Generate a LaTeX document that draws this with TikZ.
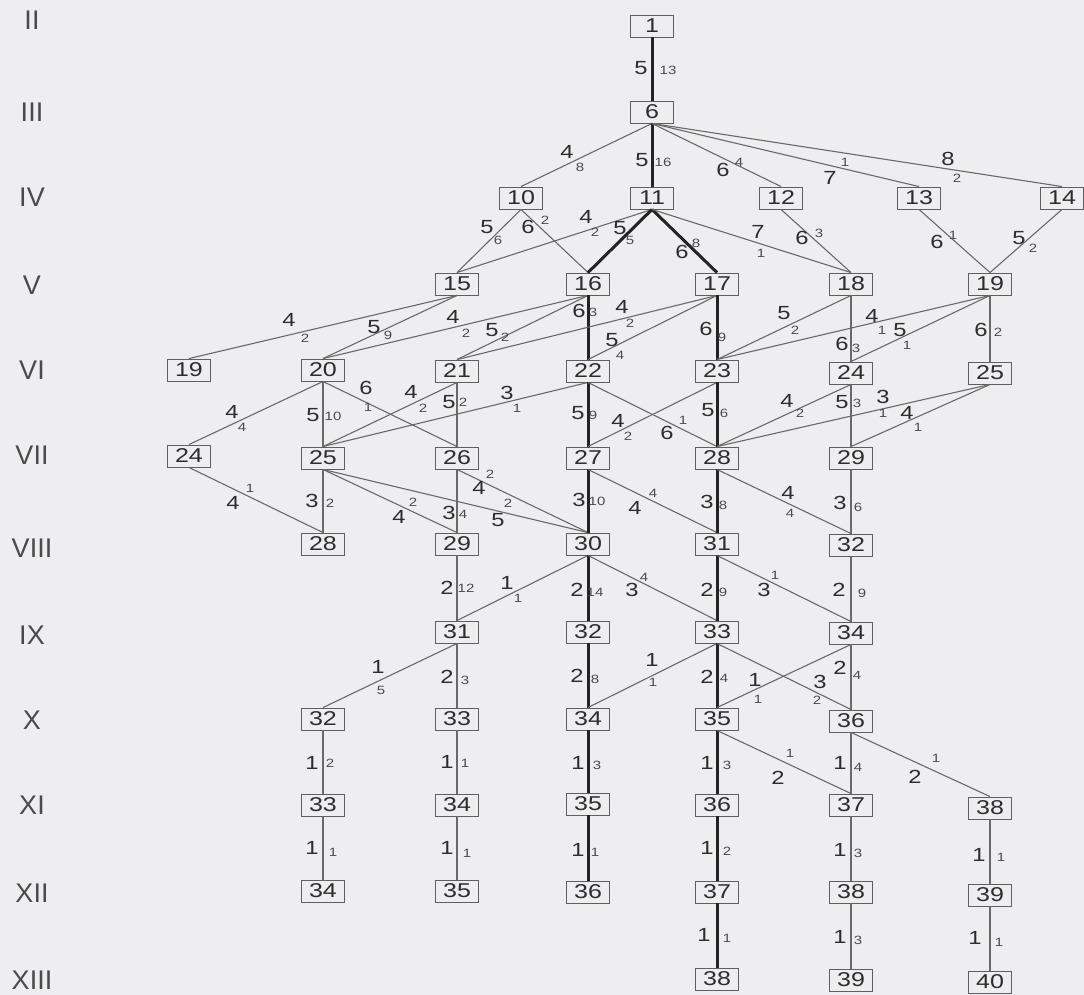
\documentclass[tikz,border=0pt]{standalone}
\usepackage{fontspec}
\setmainfont{Liberation Sans}
\newfontfamily\numfont[FakeStretch=1.25]{Liberation Sans}
\definecolor{bgc}{RGB}{238,238,240}
\definecolor{boxc}{RGB}{95,95,95}
\definecolor{txt}{RGB}{45,45,45}
\definecolor{smc}{RGB}{75,75,75}
\definecolor{lnc}{RGB}{105,105,105}
\definecolor{thkc}{RGB}{35,35,35}
\newcounter{labc}
\newcommand{\Lab}[6]{\stepcounter{labc}%
  \node[big] (L\arabic{labc}a) at (#1,#2) {#3};
  \node[sml] (L\arabic{labc}b) at (#4,#5) {#6};}
\newcommand{\EdgeN}[2]{\draw[ln] (#1.south) -- (#2.north);}
\newcommand{\EdgeT}[2]{\draw[thk] (#1.south) -- (#2.north);}
\begin{document}
\begin{tikzpicture}[x=1pt,y=-1pt,
  box/.style={draw=boxc, fill=bgc, line width=0.9pt, minimum width=43pt, minimum height=22pt, inner sep=0pt, font=\numfont\fontsize{20}{20}\selectfont, text=txt},
  ln/.style={draw=lnc, line width=1.1pt},
  thk/.style={draw=thkc, line width=3pt},
  big/.style={font=\numfont\fontsize{19}{19}\selectfont, text=txt, inner sep=0pt},
  sml/.style={font=\numfont\fontsize{12}{12}\selectfont, text=smc, inner sep=0pt},
  rom/.style={font=\fontsize{27}{27}\selectfont, text=txt!85!bgc, inner sep=0pt}]
\fill[bgc] (0,0) rectangle (1084,995);
\useasboundingbox (0,0) rectangle (1084,995);
% row labels
\node[rom] (rII) at (32,20) {II};
\node[rom] (rIII) at (32,112) {III};
\node[rom] (rIV) at (32,197) {IV};
\node[rom] (rV) at (32,285) {V};
\node[rom] (rVI) at (32,370) {VI};
\node[rom] (rVII) at (32,455) {VII};
\node[rom] (rVIII) at (32,548) {VIII};
\node[rom] (rIX) at (32,635) {IX};
\node[rom] (rX) at (32,720) {X};
\node[rom] (rXI) at (32,805) {XI};
\node[rom] (rXII) at (32,893) {XII};
\node[rom] (rXIII) at (32,980) {XIII};
% nodes
\node[box] (A1) at (652,26) {1};
\node[box] (B6) at (652,112) {6};
\node[box] (C10) at (521,198) {10};
\node[box] (C11) at (652,198) {11};
\node[box] (C12) at (781,198) {12};
\node[box] (C13) at (919,198) {13};
\node[box] (C14) at (1062,198) {14};
\node[box] (D15) at (457,284) {15};
\node[box] (D16) at (588,284) {16};
\node[box] (D17) at (717,284) {17};
\node[box] (D18) at (851,284) {18};
\node[box] (D19) at (990,284) {19};
\node[box] (E19) at (189,370) {19};
\node[box] (E20) at (323,370) {20};
\node[box] (E21) at (457,371) {21};
\node[box] (E22) at (588,371) {22};
\node[box] (E23) at (717,371) {23};
\node[box] (E24) at (851,373) {24};
\node[box] (E25) at (990,373) {25};
\node[box] (F24) at (189,456) {24};
\node[box] (F25) at (323,458) {25};
\node[box] (F26) at (457,458) {26};
\node[box] (F27) at (588,458) {27};
\node[box] (F28) at (717,458) {28};
\node[box] (F29) at (851,458) {29};
\node[box] (G28) at (323,544) {28};
\node[box] (G29) at (457,544) {29};
\node[box] (G30) at (588,544) {30};
\node[box] (G31) at (717,544) {31};
\node[box] (G32) at (851,545) {32};
\node[box] (H31) at (457,632) {31};
\node[box] (H32) at (588,632) {32};
\node[box] (H33) at (717,632) {33};
\node[box] (H34) at (851,633) {34};
\node[box] (I32) at (323,719) {32};
\node[box] (I33) at (457,719) {33};
\node[box] (I34) at (588,719) {34};
\node[box] (I35) at (717,719) {35};
\node[box] (I36) at (851,721) {36};
\node[box] (J33) at (323,805) {33};
\node[box] (J34) at (457,805) {34};
\node[box] (J35) at (588,804) {35};
\node[box] (J36) at (717,805) {36};
\node[box] (J37) at (851,805) {37};
\node[box] (J38) at (990,808) {38};
\node[box] (K34) at (323,891) {34};
\node[box] (K35) at (457,891) {35};
\node[box] (K36) at (588,892) {36};
\node[box] (K37) at (717,892) {37};
\node[box] (K38) at (851,892) {38};
\node[box] (K39) at (990,895) {39};
\node[box] (L38) at (717,979) {38};
\node[box] (L39) at (851,980) {39};
\node[box] (L40) at (990,982) {40};
% edges
\EdgeT{A1}{B6}
\EdgeN{B6}{C10} \EdgeT{B6}{C11} \EdgeN{B6}{C12} \EdgeN{B6}{C13} \EdgeN{B6}{C14}
\EdgeN{C10}{D15} \EdgeN{C10}{D16} \EdgeN{C11}{D15} \EdgeT{C11}{D16} \EdgeT{C11}{D17}
\EdgeN{C11}{D18} \EdgeN{C12}{D18} \EdgeN{C13}{D19} \EdgeN{C14}{D19}
\EdgeN{D15}{E19} \EdgeN{D15}{E20} \EdgeN{D16}{E20} \EdgeN{D16}{E21} \EdgeT{D16}{E22}
\EdgeN{D17}{E21} \EdgeN{D17}{E22} \EdgeT{D17}{E23} \EdgeN{D18}{E23} \EdgeN{D18}{E24}
\EdgeN{D19}{E23} \EdgeN{D19}{E24} \EdgeN{D19}{E25}
\EdgeN{E20}{F24} \EdgeN{E20}{F25} \EdgeN{E20}{F26} \EdgeN{E21}{F25} \EdgeN{E21}{F26}
\EdgeN{E22}{F25} \EdgeT{E22}{F27} \EdgeN{E22}{F28} \EdgeN{E23}{F27} \EdgeT{E23}{F28}
\EdgeN{E24}{F28} \EdgeN{E24}{F29} \EdgeN{E25}{F28} \EdgeN{E25}{F29}
\EdgeN{F24}{G28} \EdgeN{F25}{G28} \EdgeN{F25}{G29} \EdgeN{F25}{G30} \EdgeN{F26}{G29}
\EdgeN{F26}{G30} \EdgeT{F27}{G30} \EdgeN{F27}{G31} \EdgeT{F28}{G31} \EdgeN{F28}{G32}
\EdgeN{F29}{G32}
\EdgeN{G29}{H31} \EdgeN{G30}{H31} \EdgeT{G30}{H32} \EdgeN{G30}{H33} \EdgeT{G31}{H33}
\EdgeN{G31}{H34} \EdgeN{G32}{H34}
\EdgeN{H31}{I32} \EdgeN{H31}{I33} \EdgeT{H32}{I34} \EdgeN{H33}{I34} \EdgeT{H33}{I35}
\EdgeN{H33}{I36} \EdgeN{H34}{I35} \EdgeN{H34}{I36}
\EdgeN{I32}{J33} \EdgeN{I33}{J34} \EdgeT{I34}{J35} \EdgeT{I35}{J36} \EdgeN{I35}{J37}
\EdgeN{I36}{J37} \EdgeN{I36}{J38}
\EdgeN{J33}{K34} \EdgeN{J34}{K35} \EdgeT{J35}{K36} \EdgeT{J36}{K37} \EdgeN{J37}{K38}
\EdgeN{J38}{K39}
\EdgeT{K37}{L38} \EdgeN{K38}{L39} \EdgeN{K39}{L40}
% labels
\Lab{641}{68}{5}{668}{70}{13}
\Lab{567}{152}{4}{580}{167}{8}
\Lab{642}{160}{5}{663}{162}{16}
\Lab{723}{170}{6}{739}{162}{4}
\Lab{830}{178}{7}{845}{162}{1}
\Lab{948}{159}{8}{957}{178}{2}
\Lab{487}{227}{5}{498}{240}{6}
\Lab{528}{227}{6}{545}{220}{2}
\Lab{586}{217}{4}{595}{232}{2}
\Lab{620}{228}{5}{630}{240}{5}
\Lab{682}{252}{6}{696}{243}{8}
\Lab{758}{232}{7}{761}{253}{1}
\Lab{802}{238}{6}{819}{233}{3}
\Lab{937}{242}{6}{953}{235}{1}
\Lab{1019}{238}{5}{1033}{248}{2}
\Lab{289}{320}{4}{305}{338}{2}
\Lab{374}{327}{5}{388}{335}{9}
\Lab{453}{317}{4}{466}{333}{2}
\Lab{492}{330}{5}{505}{337}{2}
\Lab{579}{311}{6}{593}{312}{3}
\Lab{622}{307}{4}{630}{323}{2}
\Lab{612}{340}{5}{620}{355}{4}
\Lab{706}{329}{6}{722}{337}{9}
\Lab{784}{313}{5}{795}{330}{2}
\Lab{872}{316}{4}{882}{330}{1}
\Lab{900}{330}{5}{907}{345}{1}
\Lab{842}{344}{6}{856}{348}{3}
\Lab{981}{330}{6}{998}{332}{2}
\Lab{232}{412}{4}{242}{427}{4}
\Lab{313}{415}{5}{333}{416}{10}
\Lab{366}{388}{6}{368}{407}{1}
\Lab{411}{392}{4}{423}{408}{2}
\Lab{449}{402}{5}{463}{402}{2}
\Lab{507}{393}{3}{517}{408}{1}
\Lab{578}{413}{5}{593}{415}{9}
\Lab{618}{421}{4}{628}{436}{2}
\Lab{667}{433}{6}{683}{420}{1}
\Lab{708}{410}{5}{724}{413}{6}
\Lab{787}{401}{4}{800}{413}{2}
\Lab{842}{402}{5}{857}{403}{3}
\Lab{883}{397}{3}{883}{413}{1}
\Lab{907}{413}{4}{918}{427}{1}
\Lab{233}{503}{4}{250}{488}{1}
\Lab{312}{501}{3}{330}{503}{2}
\Lab{399}{517}{4}{413}{502}{2}
\Lab{449}{513}{3}{463}{514}{4}
\Lab{479}{488}{4}{490}{474}{2}
\Lab{498}{520}{5}{508}{503}{2}
\Lab{579}{500}{3}{597}{501}{10}
\Lab{635}{508}{4}{653}{493}{4}
\Lab{707}{502}{3}{723}{505}{8}
\Lab{788}{493}{4}{790}{513}{4}
\Lab{840}{503}{3}{858}{507}{6}
\Lab{447}{588}{2}{466}{588}{12}
\Lab{507}{583}{1}{518}{598}{1}
\Lab{577}{590}{2}{595}{592}{14}
\Lab{632}{590}{3}{644}{577}{4}
\Lab{707}{590}{2}{723}{592}{9}
\Lab{764}{590}{3}{775}{575}{1}
\Lab{839}{590}{2}{862}{593}{9}
\Lab{378}{667}{1}{381}{690}{5}
\Lab{447}{677}{2}{465}{680}{3}
\Lab{577}{676}{2}{595}{679}{8}
\Lab{652}{660}{1}{653}{682}{1}
\Lab{707}{677}{2}{724}{678}{4}
\Lab{755}{680}{1}{758}{699}{1}
\Lab{820}{682}{3}{817}{700}{2}
\Lab{840}{668}{2}{857}{675}{4}
\Lab{312}{763}{1}{330}{763}{2}
\Lab{447}{762}{1}{465}{763}{1}
\Lab{578}{763}{1}{597}{765}{3}
\Lab{707}{763}{1}{727}{765}{3}
\Lab{778}{778}{2}{790}{753}{1}
\Lab{840}{763}{1}{858}{767}{4}
\Lab{915}{777}{2}{936}{758}{1}
\Lab{312}{848}{1}{333}{852}{1}
\Lab{447}{848}{1}{467}{853}{1}
\Lab{578}{850}{1}{595}{852}{1}
\Lab{707}{848}{1}{727}{851}{2}
\Lab{840}{850}{1}{858}{853}{3}
\Lab{979}{855}{1}{1001}{857}{1}
\Lab{704}{935}{1}{727}{938}{1}
\Lab{840}{937}{1}{858}{940}{3}
\Lab{975}{938}{1}{999}{942}{1}
\end{tikzpicture}
\end{document}
